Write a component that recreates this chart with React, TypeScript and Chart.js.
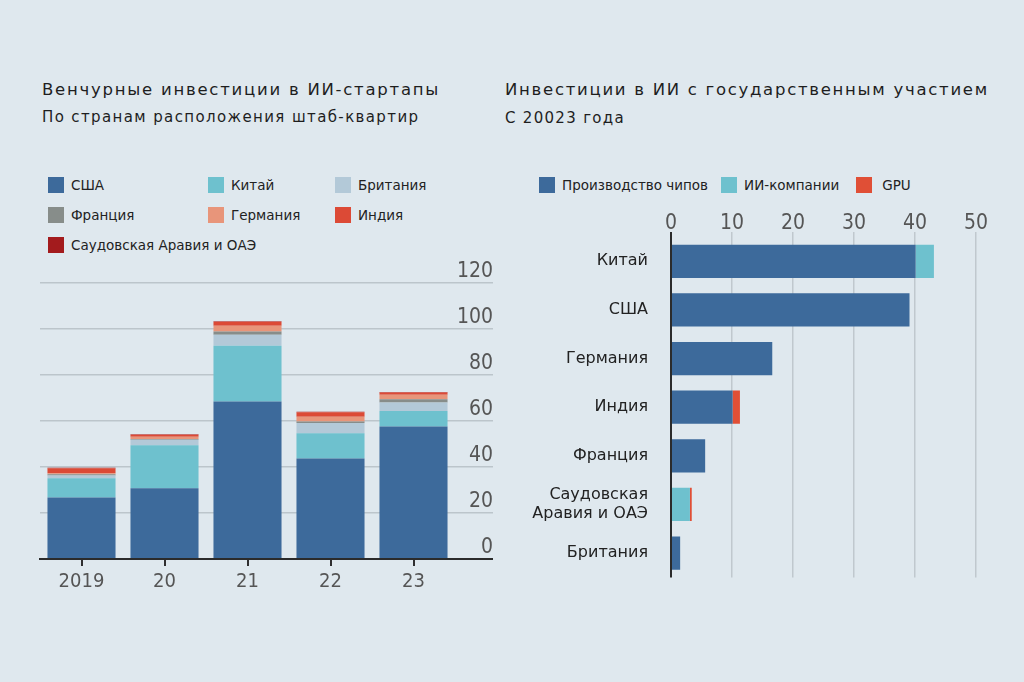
import React, { useEffect, useRef } from "react";
import { Chart, registerables } from "chart.js";

Chart.register(...registerables);

// ---------- Left chart data ----------
const years = ["2019", "20", "21", "22", "23"];
const usa = [26.7, 30.8, 68.5, 43.7, 57.6];
const china = [8.4, 18.7, 24.2, 11.0, 6.8];
const britain = [1.2, 2.3, 4.8, 4.4, 3.6];
const france = [0.5, 0.4, 1.4, 0.7, 1.5];
const germany = [0.5, 1.0, 2.5, 2.1, 1.9];
const india = [2.2, 0.8, 1.7, 1.9, 1.0];
const saudi = [0.2, 0.2, 0.3, 0.2, 0.2];
const leftYTicks = [0, 20, 40, 60, 80, 100, 120];

// ---------- Right chart data ----------
const countries = ["Китай", "США", "Германия", "Индия", "Франция", ["Саудовская", "Аравия и ОАЭ"], "Британия"];
const chips = [40.1, 39.1, 16.6, 10.1, 5.6, 0, 1.5];
const aiCompanies = [3.0, 0, 0, 0, 0, 3.1, 0];
const gpu = [0, 0, 0, 1.2, 0, 0.3, 0];
const rightXTicks = [0, 10, 20, 30, 40, 50];

// ---------- Styles ----------
const BG = "#dfe8ee";
const C_USA = "#3d6a9b";
const C_CHINA = "#6ec1ce";
const C_BRIT = "#b3c9d8";
const C_FRANCE = "#878d8a";
const C_GER = "#e8957a";
const C_INDIA = "#dc4a36";
const C_SAUDI = "#a31b1d";
const C_GPU = "#e04f36";
const COND = "'Liberation Sans Narrow', 'DejaVu Sans Condensed', sans-serif";
const SANS = "'DejaVu Sans', sans-serif";

const leftLegend = [
  { label: "США", color: C_USA },
  { label: "Китай", color: C_CHINA },
  { label: "Британия", color: C_BRIT },
  { label: "Франция", color: C_FRANCE },
  { label: "Германия", color: C_GER },
  { label: "Индия", color: C_INDIA },
  { label: "Саудовская Аравия и ОАЭ", color: C_SAUDI },
];
const rightLegend = [
  { label: "Производство чипов", color: C_USA },
  { label: "ИИ-компании", color: C_CHINA },
  { label: "GPU", color: C_GPU },
];

export default function App() {
  const leftRef = useRef<HTMLCanvasElement | null>(null);
  const rightRef = useRef<HTMLCanvasElement | null>(null);

  useEffect(() => {
    const left = new Chart(leftRef.current as HTMLCanvasElement, {
      type: "bar",
      data: {
        labels: years,
        datasets: [
          { label: "США", data: usa, backgroundColor: C_USA },
          { label: "Китай", data: china, backgroundColor: C_CHINA },
          { label: "Британия", data: britain, backgroundColor: C_BRIT },
          { label: "Франция", data: france, backgroundColor: C_FRANCE },
          { label: "Германия", data: germany, backgroundColor: C_GER },
          { label: "Индия", data: india, backgroundColor: C_INDIA },
          { label: "Саудовская Аравия и ОАЭ", data: saudi, backgroundColor: C_SAUDI },
        ],
      },
      options: {
        animation: false,
        responsive: false,
        maintainAspectRatio: false,
        layout: { padding: { left: 40, right: 17, top: 33, bottom: 16 } },
        plugins: { legend: { display: false }, tooltip: { enabled: false } },
        datasets: { bar: { categoryPercentage: 1, barPercentage: 0.82, borderWidth: 0 } },
        scales: {
          x: {
            stacked: true,
            grid: {
              display: true,
              offset: false,
              drawOnChartArea: false,
              drawTicks: true,
              tickLength: 7,
              color: "#2f2f2f",
              lineWidth: 2,
            },
            border: { display: true, color: "#2b2b2b", width: 2 },
            ticks: { font: { family: COND, size: 20 }, color: "#555", padding: 4, maxRotation: 0 },
            afterFit: (s: any) => {
              s.height = 35;
            },
          },
          y: {
            stacked: true,
            position: "right",
            min: 0,
            max: 120,
            afterBuildTicks: (axis: any) => {
              axis.ticks = leftYTicks.map((v) => ({ value: v }));
            },
            grid: {
              color: (ctx: any) => (ctx.tick && ctx.tick.value === 0 ? "#2b2b2b" : "#bcc5cb"),
              lineWidth: (ctx: any) => (ctx.tick && ctx.tick.value === 0 ? 2 : 1.5),
              tickLength: 38,
              drawTicks: true,
            },
            border: { display: false },
            ticks: {
              font: { family: COND, size: 21 },
              color: "#555",
              crossAlign: "far",
              padding: -29,
              labelOffset: -11,
            },
            afterFit: (s: any) => {
              s.width = 38;
            },
          },
        },
      },
    } as any);

    const right = new Chart(rightRef.current as HTMLCanvasElement, {
      type: "bar",
      data: {
        labels: countries,
        datasets: [
          { label: "Производство чипов", data: chips, backgroundColor: C_USA },
          { label: "ИИ-компании", data: aiCompanies, backgroundColor: C_CHINA },
          { label: "GPU", data: gpu, backgroundColor: C_GPU },
        ],
      },
      options: {
        indexAxis: "y",
        animation: false,
        responsive: false,
        maintainAspectRatio: false,
        layout: { padding: { left: 21, right: 48, top: 7, bottom: 13 } },
        plugins: { legend: { display: false }, tooltip: { enabled: false } },
        datasets: { bar: { categoryPercentage: 1, barPercentage: 0.685, borderWidth: 0 } },
        scales: {
          x: {
            stacked: true,
            position: "top",
            min: 0,
            max: 50,
            afterBuildTicks: (axis: any) => {
              axis.ticks = rightXTicks.map((v) => ({ value: v }));
            },
            grid: {
              color: (ctx: any) => (ctx.tick && ctx.tick.value === 0 ? "#2b2b2b" : "#c0c8ce"),
              lineWidth: (ctx: any) => (ctx.tick && ctx.tick.value === 0 ? 2 : 1.5),
              tickLength: 5,
              drawTicks: true,
            },
            border: { display: false },
            ticks: { font: { family: COND, size: 21 }, color: "#555", padding: -4 },
            afterFit: (s: any) => {
              s.height = 30;
            },
          },
          y: {
            stacked: true,
            grid: { display: false, drawTicks: false },
            border: { display: false },
            ticks: { font: { family: SANS, size: 16 }, color: "#222", padding: 23 },
            afterFit: (s: any) => {
              s.width = 150;
            },
          },
        },
      },
    } as any);

    return () => {
      left.destroy();
      right.destroy();
    };
  }, []);

  const sq = (color: string) => (
    <span style={{ display: "inline-block", width: 16, height: 16, background: color, marginRight: 7, flex: "0 0 auto" }} />
  );

  const abs = (x: number, y: number): React.CSSProperties => ({ position: "absolute", left: x, top: y });

  return (
    <div style={{ position: "fixed", inset: 0, background: BG, overflow: "hidden", fontFamily: SANS, color: "#1e1e1e" }}>
      <div style={{ ...abs(42, 82), fontSize: 16.5, lineHeight: "16.5px", letterSpacing: 1.75, whiteSpace: "nowrap" }}>
        Венчурные инвестиции в ИИ-стартапы
      </div>
      <div style={{ ...abs(42, 110), fontSize: 15, lineHeight: "15px", letterSpacing: 1.38, whiteSpace: "nowrap" }}>
        По странам расположения штаб-квартир
      </div>
      <div style={{ ...abs(505, 82), fontSize: 16.5, lineHeight: "16.5px", letterSpacing: 1.72, whiteSpace: "nowrap" }}>
        Инвестиции в ИИ с государственным участием
      </div>
      <div style={{ ...abs(505, 111), fontSize: 15, lineHeight: "15px", letterSpacing: 1.3, whiteSpace: "nowrap" }}>
        С 20023 года
      </div>

      <div
        style={{
          ...abs(48, 177),
          display: "grid",
          gridTemplateColumns: "160px 127px 160px",
          rowGap: 14,
          fontSize: 13.5,
          color: "#222",
        }}
      >
        {leftLegend.map((it) => (
          <div key={it.label} style={{ display: "flex", alignItems: "center", height: 16, whiteSpace: "nowrap" }}>
            {sq(it.color)}
            <span>{it.label}</span>
          </div>
        ))}
      </div>

      <div style={{ ...abs(539, 177), display: "flex", fontSize: 13.5, color: "#222" }}>
        {rightLegend.map((it, i) => (
          <div
            key={it.label}
            style={{ display: "flex", alignItems: "center", height: 16, whiteSpace: "nowrap", marginRight: i === 0 ? 13 : 17 }}
          >
            {sq(it.color)}
            <span style={{ marginLeft: i === 2 ? 3 : 0 }}>{it.label}</span>
          </div>
        ))}
      </div>

      <canvas ref={leftRef} width={510} height={360} style={{ ...abs(0, 250), display: "block" }} />
      <canvas ref={rightRef} width={524} height={410} style={{ ...abs(500, 200), display: "block" }} />
    </div>
  );
}
